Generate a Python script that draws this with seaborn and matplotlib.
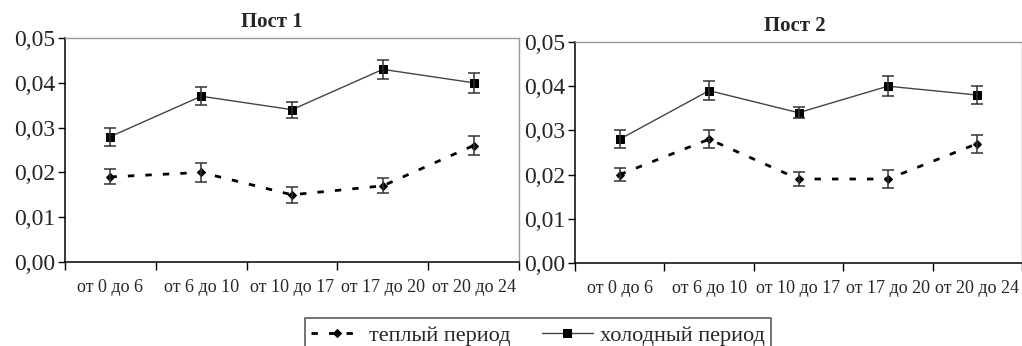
import matplotlib
matplotlib.use("Agg")
import matplotlib.pyplot as plt
import seaborn as sns
import numpy as np
import pandas as pd
from matplotlib.ticker import FixedLocator, FuncFormatter

categories = ["от 0 до 6", "от 6 до 10", "от 10 до 17", "от 17 до 20", "от 20 до 24"]

post1_cold = [0.028, 0.037, 0.034, 0.043, 0.040]
post1_cold_err = [0.002, 0.002, 0.0018, 0.0022, 0.0022]
post1_warm = [0.019, 0.020, 0.015, 0.017, 0.026]
post1_warm_err = [0.0017, 0.0022, 0.0018, 0.0017, 0.0021]

post2_cold = [0.028, 0.039, 0.034, 0.040, 0.038]
post2_cold_err = [0.002, 0.0022, 0.0013, 0.0023, 0.002]
post2_warm = [0.020, 0.028, 0.019, 0.019, 0.027]
post2_warm_err = [0.0015, 0.002, 0.0015, 0.002, 0.002]

titles = ["Пост 1", "Пост 2"]
legend_labels = ["теплый период", "холодный период"]
yticks = [0.00, 0.01, 0.02, 0.03, 0.04, 0.05]

sns.set_theme(style="white")
plt.rcParams['font.family'] = ['Liberation Serif', 'DejaVu Serif']

fig = plt.figure(figsize=(10.22, 3.46), dpi=100)
ax1 = fig.add_axes([65/1022, 1-262/346, (519-65)/1022, (262-38)/346])
ax2 = fig.add_axes([575/1022, 1-263/346, (1022-575)/1022, (263-42)/346])

datasets = [
    (post1_warm, post1_warm_err, post1_cold, post1_cold_err),
    (post2_warm, post2_warm_err, post2_cold, post2_cold_err),
]
title_x = [0.456, 0.492]

handles = None
for ax, title, tx, (w, we, c, ce) in zip([ax1, ax2], titles, title_x, datasets):
    x = np.arange(len(categories))
    df = pd.DataFrame({"x": np.concatenate([x, x]),
                       "y": w + c,
                       "period": [legend_labels[0]] * len(x) + [legend_labels[1]] * len(x)})
    sns.lineplot(data=df[df.period == legend_labels[1]], x="x", y="y", ax=ax,
                 color="#444444", lw=1.0, marker="s", markersize=5.5,
                 markerfacecolor="black", markeredgecolor="black", label=legend_labels[1])
    sns.lineplot(data=df[df.period == legend_labels[0]], x="x", y="y", ax=ax,
                 color="black", lw=2.0, dashes=False, marker="D", markersize=4,
                 markerfacecolor="black", markeredgecolor="black", label=legend_labels[0])
    ax.lines[-1].set_dashes((2.3, 4))
    ax.errorbar(x, c, yerr=ce, fmt="none", ecolor="#333333", elinewidth=1.1, capsize=4, capthick=1.1)
    ax.errorbar(x, w, yerr=we, fmt="none", ecolor="#333333", elinewidth=1.1, capsize=4, capthick=1.1)
    ax.set_xlim(-0.5, len(categories) - 0.5)
    ax.set_ylim(0, 0.05)
    ax.set_yticks(yticks)
    ax.yaxis.set_major_formatter(FuncFormatter(lambda v, p: f"{v:.2f}".replace(".", ",")))
    ax.xaxis.set_major_locator(FixedLocator(np.arange(-0.5, len(categories), 1.0)))
    ax.xaxis.set_major_formatter(FuncFormatter(lambda v, p: ""))
    ax.xaxis.set_minor_locator(FixedLocator(x))
    ax.set_xticklabels(categories, minor=True)
    ax.tick_params(axis="x", which="major", direction="out", length=6, width=1, color="black", bottom=True)
    ax.tick_params(axis="x", which="minor", length=0, labelsize=13, pad=12)
    ax.tick_params(axis="y", direction="out", length=5, width=1, color="black", left=True, labelsize=17, pad=2)
    ax.set_xlabel("")
    ax.set_ylabel("")
    ax.set_title(title, fontsize=15, fontweight="bold", pad=8, x=tx)
    for s in ["left", "bottom"]:
        ax.spines[s].set_color("black")
        ax.spines[s].set_linewidth(1.1)
    for s in ["top", "right"]:
        ax.spines[s].set_color("#999999")
        ax.spines[s].set_linewidth(1.0)
    ax.set_facecolor("none")
    h, l = ax.get_legend_handles_labels()
    handles = (h, l)
    ax.get_legend().remove()

h, l = handles
order = [l.index(legend_labels[0]), l.index(legend_labels[1])]
leg = fig.legend([h[i] for i in order], [l[i] for i in order], loc="lower center",
                 bbox_to_anchor=(538/1022, -0.05), ncol=2, frameon=True, fancybox=False,
                 fontsize=16, handlelength=2.3, columnspacing=1.4, borderpad=0.3,
                 handletextpad=0.3)
leg.get_frame().set_edgecolor("#333333")
leg.get_frame().set_linewidth(1.2)

fig.savefig("out.png", dpi=100)
